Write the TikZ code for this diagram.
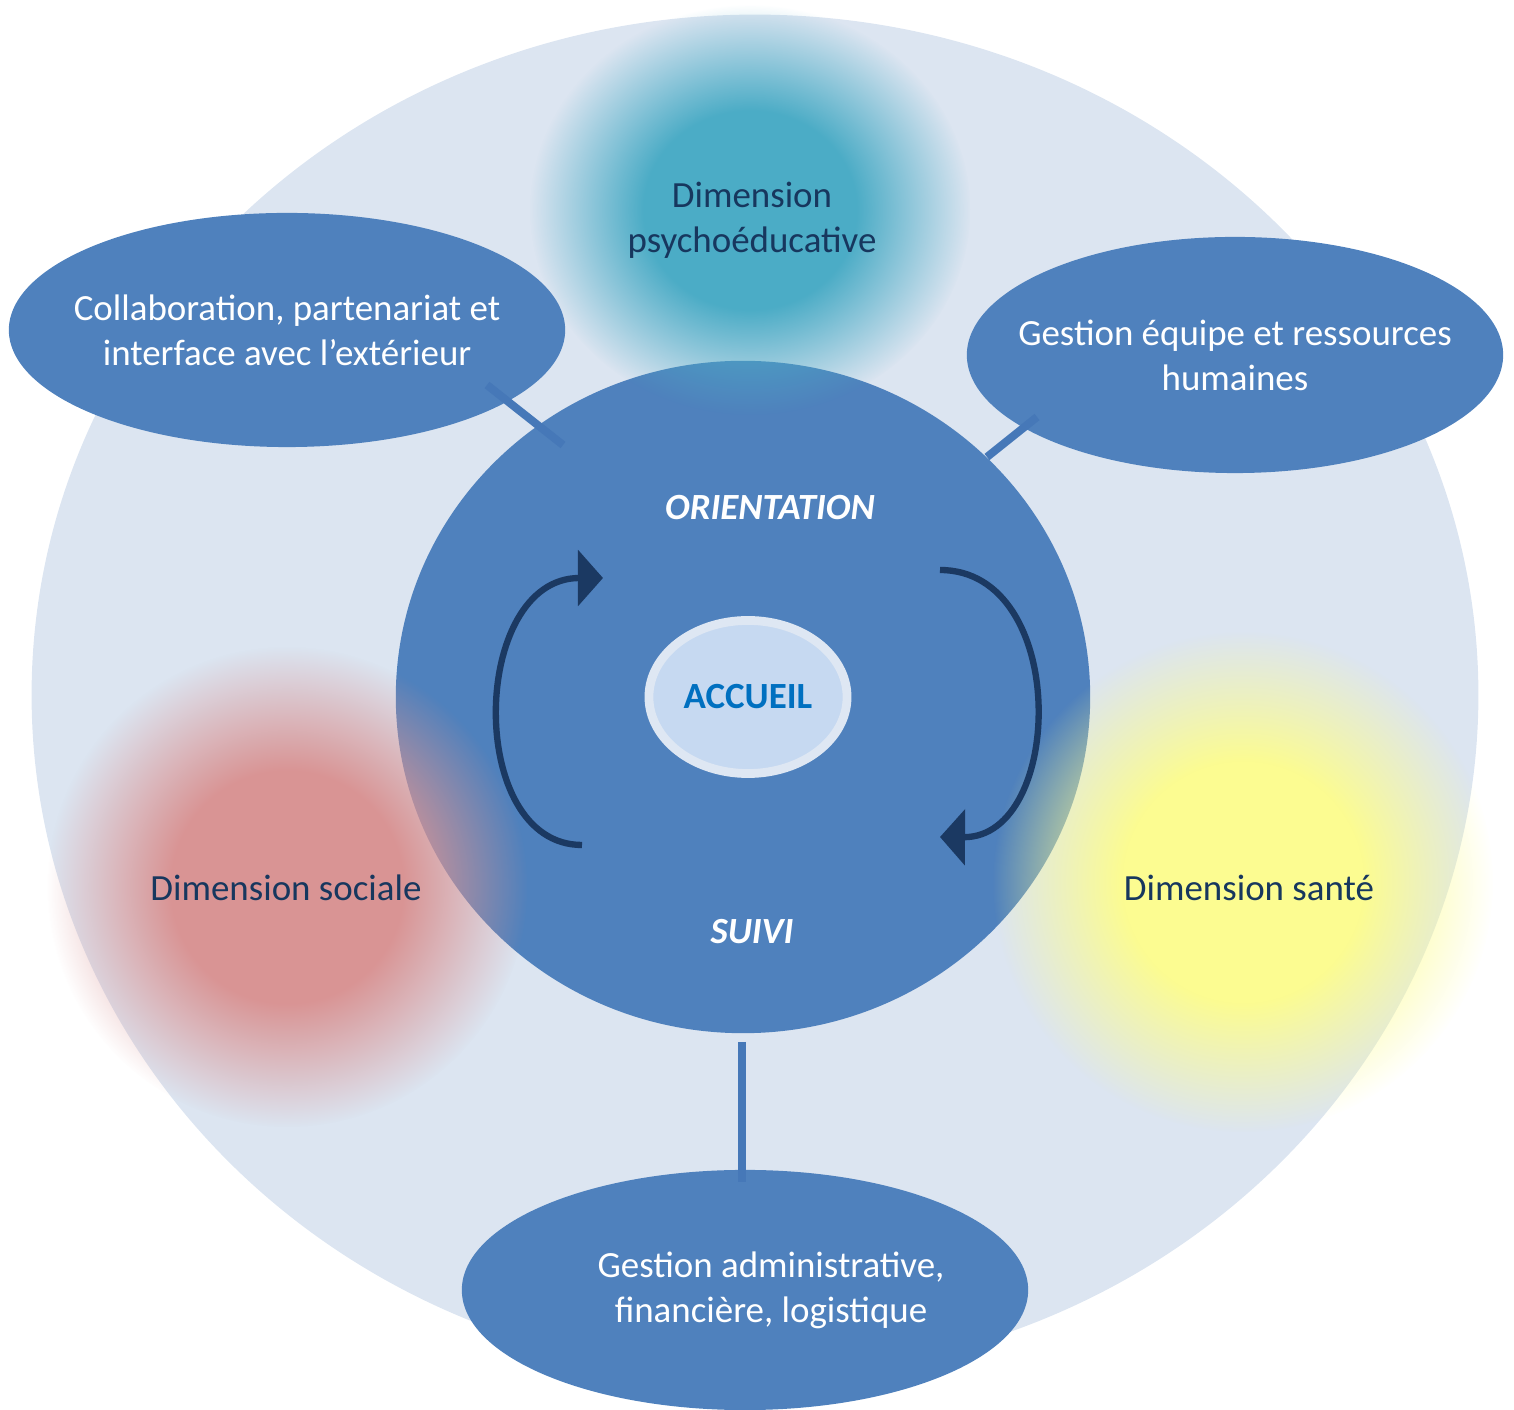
\documentclass[tikz,border=0pt]{standalone}
\usepackage{fontspec}
\setmainfont{Carlito}
\usetikzlibrary{shapes.geometric,arrows.meta,fadings}

\definecolor{ringbg}{RGB}{220,229,241}
\definecolor{corebl}{RGB}{79,129,189}
\definecolor{linkbl}{RGB}{70,120,184}
\definecolor{navytext}{RGB}{23,55,94}
\definecolor{arrowbl}{RGB}{27,57,98}
\definecolor{accfill}{RGB}{198,217,241}
\definecolor{accedge}{RGB}{222,231,243}
\definecolor{acctext}{RGB}{0,112,192}
\definecolor{tealblob}{RGB}{75,172,198}
\definecolor{redblob}{RGB}{217,148,148}
\definecolor{yellowblob}{RGB}{252,252,145}

\pgfdeclareradialshading{blobshading}{\pgfpointorigin}{color(0bp)=(white); color(12bp)=(white); color(25bp)=(black); color(50bp)=(black)}
\pgfdeclarefading{blobfade}{\pgfuseshading{blobshading}}

\begin{document}
\begin{tikzpicture}[x=0.01cm,y=-0.01cm,
  every node/.style={font=\fontsize{10.5}{12.8}\selectfont},
  bubble/.style={ellipse,fill=corebl,text=white,align=center,inner ysep=0pt,inner xsep=-0.5cm},
  dimtext/.style={text=navytext,align=center},
  link/.style={draw=linkbl,line width=0.08cm},
  cyclearrow/.style={draw=arrowbl,line width=1.8pt,-{Triangle[length=0.25cm,width=0.55cm]}}]
\useasboundingbox (0,0) rectangle (1514,1410);
\fill[ringbg] (755,695) ellipse [x radius=7.23cm, y radius=6.8cm];
\node[ellipse,fill=corebl,minimum width=6.94cm,minimum height=6.72cm,inner sep=0pt] (core) at (743,697) {};
\fill[tealblob,path fading=blobfade] (750,210) ellipse [x radius=2.2cm, y radius=2.05cm];
\fill[redblob,path fading=blobfade] (287,887) ellipse [x radius=2.4cm, y radius=2.4cm];
\fill[yellowblob,path fading=blobfade] (1243,882) ellipse [x radius=2.5cm, y radius=2.5cm];
\node[bubble,minimum width=5.56cm,minimum height=2.34cm] (collab) at (287,330) {Collaboration, partenariat et\\interface avec l’extérieur};
\node[bubble,minimum width=5.36cm,minimum height=2.36cm] (equipe) at (1235,355) {Gestion équipe et ressources\\humaines};
\node[bubble,minimum width=5.66cm,minimum height=2.40cm] (admin) at (745,1290) {\hspace*{5.2mm}Gestion administrative,\\\hspace*{5.2mm}financière, logistique};
\coordinate (collabend) at (487,385);
\coordinate (collabcore) at (563,445);
\coordinate (equipeend) at (1037,417);
\coordinate (equipecore) at (987,457);
\coordinate (admincore) at (742,1042);
\coordinate (adminend) at (742,1182);
\draw[link] (collabend) -- (collabcore);
\draw[link] (equipeend) -- (equipecore);
\draw[link] (admincore) -- (adminend);
\node[ellipse,fill=accfill,draw=accedge,line width=2.5pt,minimum width=1.98cm,minimum height=1.53cm,inner sep=0pt,text=acctext,font=\fontsize{10.5}{12.8}\selectfont\bfseries] (accueil) at (748,697) {ACCUEIL};
\node[text=white,font=\fontsize{10.5}{12.8}\selectfont\bfseries\itshape] (orient) at (770,508) {ORIENTATION};
\node[text=white,font=\fontsize{10.5}{12.8}\selectfont\bfseries\itshape] (suivi) at (752,932) {SUIVI};
\coordinate (upstart) at (582,845);
\coordinate (upend) at (603,578);
\coordinate (downstart) at (940,570);
\coordinate (downend) at (940,837);
\draw[cyclearrow] (upstart) .. controls (465,845) and (470,578) .. (upend);
\draw[cyclearrow] (downstart) .. controls (1070,570) and (1065,838) .. (downend);
\node[dimtext] (psycho) at (752,220) {Dimension\\psychoéducative};
\node[dimtext] (sociale) at (286,888) {Dimension sociale};
\node[dimtext] (sante) at (1249,888) {Dimension santé};
\end{tikzpicture}
\end{document}
